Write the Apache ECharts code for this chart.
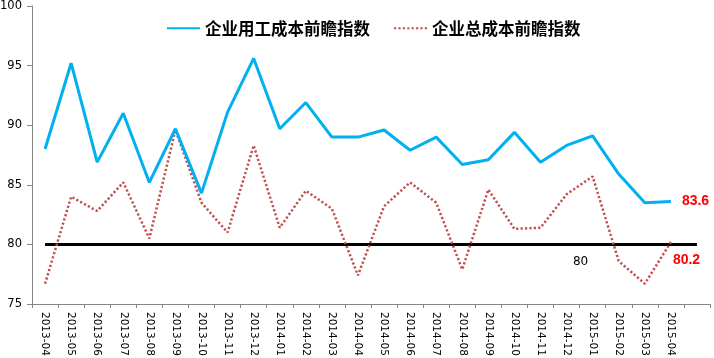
<!DOCTYPE html>
<html>
<head>
<meta charset="utf-8">
<script src="https://cdn.jsdelivr.net/npm/echarts@6/dist/echarts.min.js"></script>
<style>
html,body{margin:0;padding:0;background:#fff;}
#chart{width:714px;height:358px;}
</style>
</head>
<body>
<div id="chart"></div>
<script>
var categories = ['2013-04','2013-05','2013-06','2013-07','2013-08','2013-09','2013-10','2013-11','2013-12',
  '2014-01','2014-02','2014-03','2014-04','2014-05','2014-06','2014-07','2014-08','2014-09','2014-10','2014-11','2014-12',
  '2015-01','2015-02','2015-03','2015-04',''];
var laborCost = [88.0,95.2,86.9,91.0,85.2,89.7,84.3,91.1,95.6,89.7,91.9,89.0,89.0,89.6,87.9,89.0,86.7,87.1,89.4,86.9,88.3,89.1,85.9,83.5,83.6];
var totalCost = [76.7,84.0,82.8,85.2,80.5,89.6,83.5,81.0,88.3,81.4,84.5,83.0,77.4,83.2,85.2,83.5,77.9,84.6,81.3,81.4,84.2,85.7,78.6,76.7,80.2];
var baseline = [80,80,80,80,80,80,80,80,80,80,80,80,80,80,80,80,80,80,80,80,80,80,80,80,80,80];
var yTicks = {min:75, max:100, interval:5};
var name1 = '企业用工成本前瞻指数';
var name2 = '企业总成本前瞻指数';
var baselineLabelIndex = 20;

var numFont = 'DejaVu Sans';
var labelFont = 'Liberation Sans';
var cjkFont = 'Noto Sans CJK SC';

function endPoint(arr, labelOpts){
  var i = arr.length - 1;
  return {
    symbol:'circle', symbolSize:0, silent:true, animation:false,
    itemStyle:{color:'rgba(0,0,0,0)'},
    label:Object.assign({show:true, color:'#FF0000', fontWeight:'bold', fontSize:14, fontFamily:labelFont,
      formatter:function(p){ return p.value.toFixed(1); }}, labelOpts),
    data:[{coord:[i, arr[i]], value:arr[i]}]
  };
}

var chart = echarts.init(document.getElementById('chart'));
chart.setOption({
  animation:false,
  backgroundColor:'#fff',
  grid:{left:32, right:4, top:6, bottom:54, containLabel:false, outerBoundsMode:'none'},
  legend:{
    data:[name1,name2],
    left:161, top:15,
    itemWidth:33, itemHeight:14, itemGap:23,
    itemStyle:{opacity:0},
    textStyle:{fontFamily:cjkFont, fontWeight:'bold', fontSize:16.5, color:'#000'}
  },
  xAxis:{
    type:'category',
    data:categories,
    boundaryGap:true,
    axisLine:{lineStyle:{color:'#868686', width:1}},
    axisTick:{show:true, length:4, alignWithLabel:false, lineStyle:{color:'#868686'}},
    axisLabel:{rotate:-90, interval:0, margin:8, fontSize:10.5, fontFamily:numFont, color:'#000'},
    splitLine:{show:false}
  },
  yAxis:{
    type:'value',
    min:yTicks.min, max:yTicks.max, interval:yTicks.interval,
    axisLine:{show:true, lineStyle:{color:'#868686', width:1}},
    axisTick:{show:true, length:5, lineStyle:{color:'#868686'}},
    axisLabel:{margin:10, fontSize:11.5, fontFamily:numFont, color:'#000'},
    splitLine:{show:false}
  },
  series:[
    {
      name:'80', type:'line', data:baseline, symbol:'none', silent:true,
      lineStyle:{color:'#000', width:3},
      itemStyle:{color:'#000'}, z:1,
      markPoint:{
        symbol:'circle', symbolSize:0, silent:true,
        itemStyle:{color:'rgba(0,0,0,0)'},
        label:{show:true, position:'inside', offset:[14,17], color:'#000', fontSize:12, fontFamily:numFont,
          formatter:function(p){ return String(p.value); }},
        data:[{coord:[baselineLabelIndex, baseline[baselineLabelIndex]], value:baseline[baselineLabelIndex]}]
      }
    },
    {
      name:name1, type:'line', data:laborCost,
      symbol:'none', lineStyle:{color:'#00B0F0', width:3}, itemStyle:{color:'#00B0F0'}, z:3,
      markPoint:endPoint(laborCost, {position:'right', distance:11})
    },
    {
      name:name2, type:'line', data:totalCost,
      symbol:'none', lineStyle:{color:'#C0504D', width:2.5, type:[2.2,2.2]}, itemStyle:{color:'#C0504D'}, z:2,
      markPoint:endPoint(totalCost, {position:'right', distance:2, offset:[0,18]})
    }
  ]
});
</script>
</body>
</html>
